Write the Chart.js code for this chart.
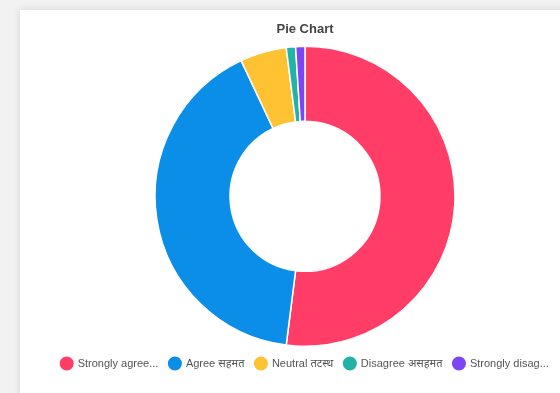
<!DOCTYPE html>
<html>
<head>
<meta charset="utf-8">
<script src="https://cdn.jsdelivr.net/npm/chart.js@4"></script>
<style>
  body { margin: 0; background: #f2f2f2; width: 560px; height: 393px; overflow: hidden; }
  .card {
    position: absolute; left: 20px; top: 10px; width: 570px; height: 400px;
    background: #fff; box-shadow: 0 0 8px rgba(0,0,0,0.12);
  }
  .chart-box { position: relative; width: 570px; height: 369px; }
</style>
</head>
<body>
<div class="card">
  <div class="chart-box"><canvas id="pieChart"></canvas></div>
</div>
<script>
// ================= DATA =================
const categories = ["Strongly agree पूर्ण सहमत", "Agree सहमत", "Neutral तटस्थ", "Disagree असहमत", "Strongly disagree पूर्ण असहमत"];
const responses = [52, 41, 5, 1, 1];
const sliceColors = ["#ff3d67", "#0a8ee8", "#ffc233", "#22b2a8", "#7d45f5"];

function shortLabel(text) {
  return text.length > 16 ? text.slice(0, 14) + "..." : text;
}

// ================= CHART =================
const ctx = document.getElementById("pieChart").getContext("2d");
new Chart(ctx, {
  type: "doughnut",
  data: {
    labels: categories,
    datasets: [{
      data: responses,
      backgroundColor: sliceColors,
      borderColor: "#fff",
      borderWidth: 1.5
    }]
  },
  options: {
    responsive: true,
    maintainAspectRatio: false,
    animation: false,
    cutout: "50%",
    plugins: {
      title: {
        display: true,
        text: "Pie Chart",
        color: "#444",
        font: { family: "'Liberation Sans', Arial, sans-serif", size: 13, weight: "bold" },
        padding: { top: 12, bottom: 8 }
      },
      legend: {
        position: "bottom",
        labels: {
          usePointStyle: true,
          pointStyle: "circle",
          boxWidth: 12,
          padding: 11,
          color: "#555",
          font: { family: "'Liberation Sans', Arial, 'Noto Sans', sans-serif", size: 11 },
          generateLabels(chart) {
            const items = Chart.overrides.doughnut.plugins.legend.labels.generateLabels(chart);
            items.forEach(it => { it.text = shortLabel(it.text); });
            return items;
          }
        }
      }
    }
  }
});
</script>
</body>
</html>
